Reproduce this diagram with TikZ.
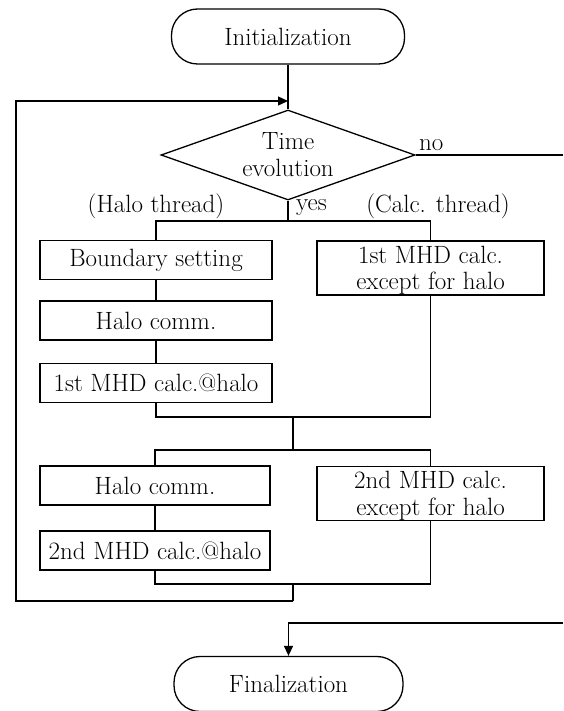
\documentclass[tikz,border=0pt]{standalone}
\usetikzlibrary{shapes.geometric,arrows.meta}
\begin{document}
\begin{tikzpicture}[x=1pt,y=-1pt,
  every node/.style={font=\fontsize{25}{26.5}\selectfont},
  line/.style={line width=1.3pt},
  box/.style={draw,line width=1.3pt,rectangle,inner sep=0pt,align=center,minimum height=39pt},
  lbox/.style={box,minimum width=232pt},
  rbox/.style={box,minimum width=227pt,minimum height=54pt},
  term/.style={draw,line width=1.3pt,rounded corners=26pt,minimum height=55pt,inner sep=0pt},
  decision/.style={draw,line width=1.3pt,diamond,aspect=2.82,minimum width=254pt,minimum height=90pt,inner sep=0pt,align=center,font=\fontsize{25}{27}\selectfont},
  lbl/.style={inner sep=0pt,text height=17pt,text depth=5pt},
  arr/.style={line,-{Triangle[length=10pt,width=9pt]}}
]
\useasboundingbox (0,0) rectangle (563,711);

% nodes
\node[term,minimum width=233pt] (init) at (288,36.5) {Initialization};
\node[decision] (dec) at (288,155) {Time\\evolution};
\node[lbox] (b1) at (156,260) {Boundary setting};
\node[lbox] (b2) at (156,320.5) {Halo comm.};
\node[lbox] (b3) at (156,383) {1st MHD calc.@halo};
\node[rbox] (r1) at (430.5,268) {\rule{0pt}{22pt}1st MHD calc.\\except for halo};
\node[lbox,minimum width=230pt] (c1) at (155,485.5) {Halo comm.};
\node[lbox,minimum width=230pt] (c2) at (155,550.5) {2nd MHD calc.@halo};
\node[rbox] (r2) at (430.5,493.5) {\rule{0pt}{22pt}2nd MHD calc.\\except for halo};
\node[term,minimum width=229pt] (fin) at (288.5,684) {Finalization};

% labels
\node[lbl] (halo) at (156,207) {(Halo thread)};
\node[lbl] (calc) at (438,207) {(Calc. thread)};
\node[lbl,anchor=west] (yes) at (296,205) {yes};
\node[lbl,anchor=west] (no) at (419,144.5) {no};

% coordinates
\coordinate (s1m) at (288,221);
\coordinate (s1r) at (430.5,221);
\coordinate (j1r) at (430.5,417);
\coordinate (j1m) at (293,417);
\coordinate (s2m) at (293,450);
\coordinate (s2r) at (430.5,450);
\coordinate (j2r) at (430.5,584);
\coordinate (j2m) at (293,584);
\coordinate (lb) at (293,601);
\coordinate (cornerbl) at (16,601);
\coordinate (cornertl) at (16,101);
\coordinate (loopin) at (288,101);
\coordinate (noend) at (563,155);
\coordinate (finstart) at (563,623);
\coordinate (finturn) at (288.5,623);

% connectors
\draw[line] (init) -- (dec);
\draw[line] (dec.south) -- (s1m);
\draw[line] (b1.north) |- (s1r) -- (r1.north);
\draw[line] (b1) -- (b2);
\draw[line] (b2) -- (b3);
\draw[line] (b3.south) |- (j1r) -- (r1.south);
\draw[line] (j1m) -- (s2m);
\draw[line] (c1.north) |- (s2r) -- (r2.north);
\draw[line] (c1) -- (c2);
\draw[line] (c2.south) |- (j2r) -- (r2.south);
\draw[line] (j2m) -- (lb);
\draw[arr] (lb) -- (cornerbl) -- (cornertl) -- (loopin);
\draw[line] (dec.east) -- (noend);
\draw[arr] (finstart) -- (finturn) -- (fin.north);
\end{tikzpicture}
\end{document}
